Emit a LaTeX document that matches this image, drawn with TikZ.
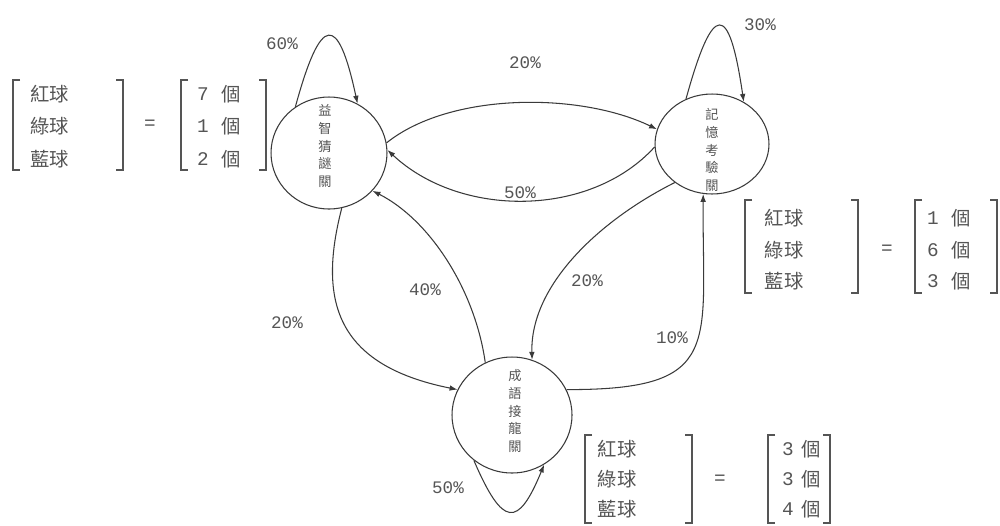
\documentclass[tikz,border=0pt]{standalone}
\usepackage{fontspec}
\setmainfont{Liberation Mono}
\newfontfamily\cjk{Noto Sans CJK TC}
\usetikzlibrary{shapes.geometric,arrows.meta}
\definecolor{ink}{HTML}{3A3A3A}
\definecolor{txt}{HTML}{555555}
\begin{document}
\begin{tikzpicture}[x=0.02cm,y=-0.02cm,
  stnode/.style={draw=ink,line width=0.6pt,ellipse,inner sep=0pt},
  vtext/.style={align=center,font=\cjk\fontsize{7.5}{10.2}\selectfont,text=txt,inner sep=0pt},
  trans/.style={draw=ink,line width=0.6pt,-{Latex[length=4.5pt,width=3.2pt]}},
  pct/.style={font=\fontsize{10}{12}\selectfont,text=txt},
  cell/.style={font=\cjk\fontsize{11}{12}\selectfont,text=txt,inner sep=0pt},
  num/.style={font=\fontsize{11}{12}\selectfont,text=txt,inner sep=0pt},
  brk/.style={draw=txt,line width=0.6pt}]
\useasboundingbox[fill=white] (0,0) rectangle (1000,525);

% states
\node[stnode,minimum width=2.32cm,minimum height=2.24cm] (A) at (329,153) {};
\node[stnode,minimum width=2.28cm,minimum height=2.0cm] (B) at (712,144) {};
\node[stnode,minimum width=2.4cm,minimum height=2.32cm] (C) at (512,415) {};
\node[vtext] (At) at (325,146) {益\\智\\猜\\謎\\關};
\node[vtext] (Bt) at (712,150) {記\\憶\\考\\驗\\關};
\node[vtext] (Ct) at (515,411) {成\\語\\接\\龍\\關};

% transitions
\draw[trans] (A.10) .. controls (450,92) and (580,92) .. (B.165);
\draw[trans] (B.183) .. controls (590,218) and (460,218) .. (A.3);
\draw[trans] (A.126) .. controls (321,13) and (338,13) .. (A.60);
\draw[trans] (B.120) .. controls (713,1) and (729,1) .. (B.53);
\draw[trans] (C.230) .. controls (503,528) and (518,528) .. (C.303);
\draw[trans] (A.283) .. controls (318,300) and (335,365) .. (C.155);
\draw[trans] (C.117) .. controls (475,290) and (430,220) .. (A.-41);
\draw[trans] (B.226) .. controls (600,220) and (530,285) .. (C.70);
\draw[trans] (C.25) .. controls (725,390) and (702,345) .. (B.260);

% labels
\node[pct] (p1) at (282,44) {60\%};
\node[pct] (p2) at (760,25) {30\%};
\node[pct] (p3) at (525,63) {20\%};
\node[pct,fill=white,inner sep=0.5pt] (p4) at (520,193) {50\%};
\node[pct] (p5) at (287,323) {20\%};
\node[pct] (p6) at (425,290) {40\%};
\node[pct] (p7) at (587,281) {20\%};
\node[pct] (p8) at (672,338) {10\%};
\node[pct] (p9) at (448,488) {50\%};

% left matrix
\draw[brk] (20,80) -- (13,80) -- (13,170) -- (20,170);
\draw[brk] (116,80) -- (123,80) -- (123,170) -- (116,170);
\node[cell] (a1) at (50,94) {紅球};
\node[cell] (a2) at (50,126) {綠球};
\node[cell] (a3) at (50,159) {藍球};
\node[num] (aeq) at (150,125) {=};
\draw[brk] (188,80) -- (181,80) -- (181,170) -- (188,170);
\draw[brk] (259,80) -- (266,80) -- (266,170) -- (259,170);
\node[num] (ad1) at (203,94) {7};
\node[num] (ad2) at (203,126) {1};
\node[num] (ad3) at (203,159) {2};
\node[cell] (ag1) at (231,94) {個};
\node[cell] (ag2) at (231,126) {個};
\node[cell] (ag3) at (231,159) {個};

% right matrix
\draw[brk] (752,200) -- (745,200) -- (745,293) -- (752,293);
\draw[brk] (851,200) -- (858,200) -- (858,293) -- (851,293);
\node[cell] (b1) at (784,218) {紅球};
\node[cell] (b2) at (784,250) {綠球};
\node[cell] (b3) at (784,281) {藍球};
\node[num] (beq) at (887,250) {=};
\draw[brk] (922,200) -- (915,200) -- (915,293) -- (922,293);
\draw[brk] (990,200) -- (997,200) -- (997,293) -- (990,293);
\node[num] (bd1) at (933,218) {1};
\node[num] (bd2) at (933,250) {6};
\node[num] (bd3) at (933,281) {3};
\node[cell] (bg1) at (961,218) {個};
\node[cell] (bg2) at (961,250) {個};
\node[cell] (bg3) at (961,281) {個};

% bottom matrix
\draw[brk] (592,435) -- (585,435) -- (585,523) -- (592,523);
\draw[brk] (685,435) -- (692,435) -- (692,523) -- (685,523);
\node[cell] (c1) at (617,449) {紅球};
\node[cell] (c2) at (617,479) {綠球};
\node[cell] (c3) at (617,509) {藍球};
\node[num] (ceq) at (720,480) {=};
\draw[brk] (775,435) -- (768,435) -- (768,523) -- (775,523);
\draw[brk] (823,435) -- (830,435) -- (830,523) -- (823,523);
\node[num] (cd1) at (788,449) {3};
\node[num] (cd2) at (788,479) {3};
\node[num] (cd3) at (788,509) {4};
\node[cell] (cg1) at (811,449) {個};
\node[cell] (cg2) at (811,479) {個};
\node[cell] (cg3) at (811,509) {個};
\end{tikzpicture}
\end{document}
